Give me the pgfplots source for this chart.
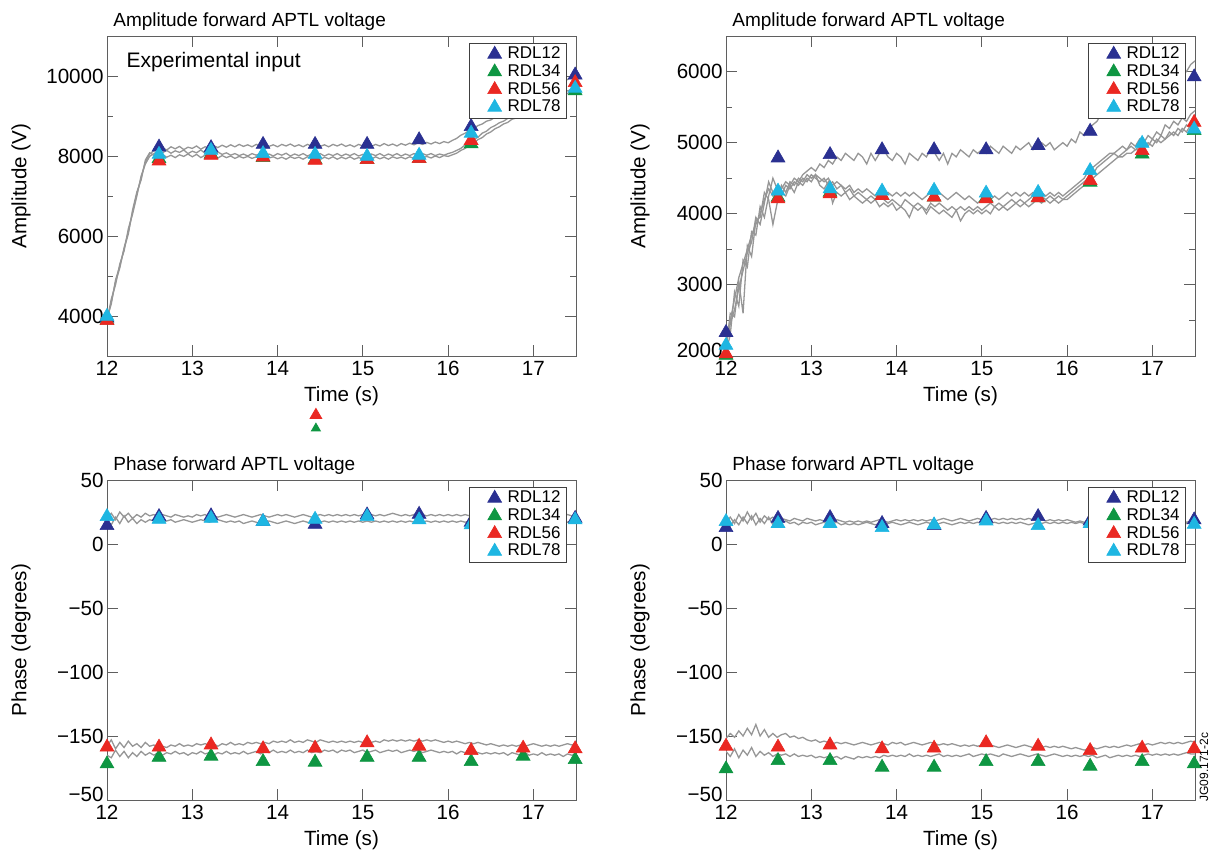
\documentclass[border=0pt]{standalone}
\usepackage{fontspec}
\setmainfont{Liberation Sans}
\usepackage{pgfplots}
\usepackage{pgfplotstable}
\pgfplotsset{compat=1.18}

\definecolor{rdlblue}{RGB}{42,48,145}
\definecolor{rdlgreen}{RGB}{14,150,66}
\definecolor{rdlred}{RGB}{234,40,34}
\definecolor{rdlcyan}{RGB}{30,182,226}
\definecolor{trace}{RGB}{150,150,150}
\definecolor{frame}{RGB}{95,95,95}

% amplitude traces, experimental input
\pgfplotstableread{
t s1 s2 s3
12.00 3900 3880 3950
12.05 4350 4420 4300
12.10 4850 4780 4900
12.15 5200 5300 5250
12.20 5700 5620 5680
12.25 6100 6180 6050
12.30 6600 6550 6650
12.35 7050 7000 7100
12.40 7450 7500 7400
12.45 7850 7800 7900
12.50 8050 7990 8080
12.55 8130 8060 8020
12.60 8170 8120 7990
12.65 8210 8080 8040
12.70 8150 8140 7970
12.75 8230 8070 8020
12.80 8180 8130 7960
12.85 8240 8090 8030
12.90 8160 8150 7990
12.95 8220 8060 8050
13.00 8190 8120 7980
13.05 8250 8080 8040
13.10 8170 8150 7960
13.15 8230 8070 8020
13.20 8200 8110 7990
13.25 8260 8060 8030
13.30 8210 8100 7950
13.35 8270 8040 8010
13.40 8220 8080 7960
13.45 8280 8020 8000
13.50 8230 8060 7940
13.55 8290 8010 7990
13.60 8240 8050 7950
13.65 8280 8000 7990
13.70 8230 8060 7940
13.75 8290 8020 7980
13.80 8250 8070 7930
13.85 8300 8010 7990
13.90 8240 8050 7950
13.95 8280 8000 7980
14.00 8230 8060 7930
14.05 8290 8020 7970
14.10 8250 8070 7920
14.15 8300 8000 7980
14.20 8240 8050 7940
14.25 8280 8010 7970
14.30 8230 8060 7920
14.35 8290 8000 7980
14.40 8250 8050 7940
14.45 8300 8010 7960
14.50 8240 8060 7910
14.55 8280 8000 7970
14.60 8230 8050 7930
14.65 8290 8010 7980
14.70 8250 8060 7920
14.75 8300 8000 7970
14.80 8240 8050 7930
14.85 8280 8010 7980
14.90 8230 8060 7920
14.95 8290 8000 7960
15.00 8250 8040 7930
15.05 8300 8000 7970
15.10 8240 8050 7920
15.15 8290 8010 7980
15.20 8250 8060 7930
15.25 8310 8000 7970
15.30 8260 8050 7920
15.35 8300 8010 7980
15.40 8250 8060 7940
15.45 8310 8000 7970
15.50 8270 8050 7930
15.55 8320 8010 7980
15.60 8280 8060 7940
15.65 8330 8010 7990
15.70 8290 8060 7950
15.75 8340 8020 7990
15.80 8300 8060 7950
15.85 8350 8010 8000
15.90 8310 8050 7960
15.95 8360 8020 8010
16.00 8330 8060 7990
16.05 8390 8090 8030
16.10 8440 8140 8070
16.15 8520 8190 8140
16.20 8570 8280 8190
16.25 8640 8320 8270
16.30 8690 8410 8320
16.35 8760 8470 8410
16.40 8800 8570 8460
16.45 8870 8620 8550
16.50 8900 8710 8600
16.55 8970 8760 8680
16.60 9010 8830 8730
16.65 9070 8870 8800
16.70 9110 8940 8840
16.75 9180 8980 8920
16.80 9220 9040 8950
16.85 9290 9070 9020
16.90 9330 9130 9050
16.95 9400 9160 9120
17.00 9440 9230 9150
17.05 9510 9260 9220
17.10 9550 9330 9250
17.15 9630 9360 9320
17.20 9670 9430 9350
17.25 9750 9460 9430
17.30 9790 9530 9460
17.35 9870 9560 9540
17.40 9910 9630 9560
17.45 9990 9660 9640
17.50 10030 9730 9670
}\ampexp

% amplitude traces, right panel
\pgfplotstableread{
t s1 s2 s3 s4
12.00 2250 2150 2050 2100
12.05 2500 2450 2300 2600
12.10 2800 2650 2900 2550
12.15 3100 2950 2700 3050
12.20 3300 3200 3350 2600
12.25 3500 3450 3250 3550
12.30 3700 3600 3750 3400
12.35 3850 3950 3700 3900
12.40 4000 3850 4100 3950
12.45 4200 4150 3950 4300
12.50 4350 4450 4250 4200
12.55 4250 4300 4500 3850
12.60 4400 4200 4350 4150
12.65 4350 4400 4250 4300
12.70 4450 4300 4400 4250
12.75 4400 4450 4350 4400
12.80 4500 4400 4450 4300
12.85 4450 4500 4400 4450
12.90 4550 4450 4500 4400
12.95 4600 4550 4450 4500
13.00 4650 4500 4550 4450
13.05 4600 4550 4500 4550
13.10 4700 4500 4450 4400
13.15 4650 4450 4500 4350
13.20 4750 4500 4400 4450
13.25 4700 4400 4450 4150
13.30 4800 4450 4350 4300
13.35 4750 4400 4400 4250
13.40 4850 4350 4300 4300
13.45 4800 4400 4350 4200
13.50 4750 4300 4250 4250
13.55 4850 4350 4300 4200
13.60 4800 4300 4250 4150
13.65 4700 4350 4200 4200
13.70 4850 4300 4250 4150
13.75 4750 4250 4200 4200
13.80 4850 4300 4250 4100
13.85 4900 4250 4200 4150
13.90 4800 4300 4150 4100
13.95 4750 4250 4200 4150
14.00 4850 4300 4150 4050
14.05 4800 4250 4100 4100
14.10 4700 4300 4200 4050
14.15 4850 4250 4150 3950
14.20 4800 4300 4100 4100
14.25 4750 4250 4150 4050
14.30 4850 4200 4100 4100
14.35 4800 4250 4050 4000
14.40 4900 4300 4150 4100
14.45 4850 4250 4100 4050
14.50 4750 4300 4150 4000
14.55 4850 4250 4100 4050
14.60 4700 4200 4050 4000
14.65 4850 4250 4100 3950
14.70 4800 4300 4050 4050
14.75 4900 4250 4100 3900
14.80 4850 4200 4050 4000
14.85 4800 4250 4100 4050
14.90 4900 4200 4050 4000
14.95 4850 4150 4100 4050
15.00 4900 4200 4050 4000
15.05 4850 4250 4100 4050
15.10 4950 4200 4150 4000
15.15 4900 4250 4100 4100
15.20 4850 4200 4150 4050
15.25 4950 4250 4100 4100
15.30 4900 4300 4150 4050
15.35 4850 4250 4200 4100
15.40 4950 4300 4150 4150
15.45 4900 4250 4200 4100
15.50 4950 4300 4150 4150
15.55 5000 4250 4200 4100
15.60 4900 4300 4250 4150
15.65 4950 4250 4200 4200
15.70 5000 4300 4250 4150
15.75 4950 4250 4200 4200
15.80 5000 4300 4250 4150
15.85 4900 4250 4200 4200
15.90 4950 4300 4250 4150
15.95 5000 4250 4200 4200
16.00 4950 4300 4250 4200
16.05 5050 4350 4300 4250
16.10 5000 4400 4350 4300
16.15 5150 4450 4400 4350
16.20 5100 4500 4450 4400
16.25 5200 4600 4500 4450
16.30 5250 4650 4550 4500
16.35 5300 4700 4650 4550
16.40 5400 4750 4700 4600
16.45 5350 4800 4750 4650
16.50 5450 4850 4800 4700
16.55 5500 4850 4850 4750
16.60 5450 4900 4800 4800
16.65 5550 4950 4850 4800
16.70 5600 4900 4900 4850
16.75 5550 5000 4950 4850
16.80 5650 4950 4900 4900
16.85 5700 5050 4950 4900
16.90 5650 5000 5000 4950
16.95 5750 5100 4950 5000
17.00 5800 5050 5050 4950
17.05 5750 5150 5000 5050
17.10 5850 5100 5100 5000
17.15 5900 5250 5050 5050
17.20 5850 5200 5150 5100
17.25 5950 5300 5100 5150
17.30 6000 5250 5200 5100
17.35 6050 5350 5150 5200
17.40 6000 5300 5250 5150
17.45 6100 5400 5200 5250
17.50 6150 5450 5300 5200
}\ampsim

% phase traces, left panel
\pgfplotstableread{
t s1 s2 s3 s4
12.00 20 18 -158 -165
12.05 24 15 -153 -167
12.10 19 21 -160 -161
12.15 25 16 -155 -166
12.20 21 22 -159 -162
12.25 24 17 -154 -167
12.30 20 20 -158 -163
12.35 23 16 -156 -166
12.40 21 19 -159 -162
12.45 24 17 -155 -165
12.50 22 19 -158 -163
12.55 23 18 -157 -165
12.60 21 19 -159 -163
12.65 23 17 -158 -165
12.70 22 18 -159 -163
12.75 21 19 -157 -164
12.80 23 17 -158 -162
12.85 22 18 -156 -164
12.90 21 19 -158 -163
12.95 22 18 -157 -165
13.00 21 17 -158 -163
13.05 23 18 -156 -164
13.10 22 19 -157 -162
13.15 23 18 -156 -164
13.20 21 17 -157 -163
13.25 22 18 -156 -165
13.30 21 19 -158 -163
13.35 22 18 -156 -164
13.40 23 17 -157 -162
13.45 22 18 -155 -164
13.50 21 17 -157 -163
13.55 22 18 -156 -164
13.60 23 16 -157 -162
13.65 22 17 -155 -164
13.70 21 18 -156 -163
13.75 22 17 -155 -162
13.80 23 16 -156 -164
13.85 22 17 -155 -162
13.90 21 18 -156 -163
13.95 22 17 -154 -161
14.00 23 16 -155 -163
14.05 22 17 -154 -162
14.10 23 18 -155 -163
14.15 22 17 -153 -161
14.20 21 16 -155 -163
14.25 22 17 -154 -162
14.30 23 18 -155 -163
14.35 22 17 -153 -161
14.40 21 16 -154 -163
14.45 22 18 -155 -162
14.50 23 17 -153 -163
14.55 22 18 -154 -161
14.60 23 17 -155 -162
14.65 22 18 -154 -161
14.70 23 17 -155 -163
14.75 22 18 -154 -161
14.80 23 17 -155 -162
14.85 22 18 -154 -161
14.90 23 17 -155 -163
14.95 22 18 -154 -162
15.00 23 17 -155 -161
15.05 24 18 -154 -163
15.10 23 17 -155 -162
15.15 22 18 -154 -161
15.20 23 17 -155 -163
15.25 22 18 -153 -162
15.30 23 17 -154 -161
15.35 24 18 -153 -162
15.40 23 17 -154 -161
15.45 22 18 -153 -163
15.50 23 17 -154 -162
15.55 22 18 -153 -161
15.60 23 17 -154 -162
15.65 24 18 -153 -161
15.70 23 17 -154 -163
15.75 22 18 -153 -162
15.80 23 17 -154 -161
15.85 22 18 -153 -162
15.90 23 17 -154 -163
15.95 22 18 -155 -162
16.00 23 17 -154 -163
16.05 22 18 -155 -162
16.10 23 17 -154 -164
16.15 22 18 -155 -162
16.20 23 17 -156 -163
16.25 22 18 -155 -164
16.30 23 17 -156 -162
16.35 22 18 -155 -163
16.40 23 17 -156 -164
16.45 22 18 -157 -163
16.50 23 17 -156 -164
16.55 22 18 -157 -163
16.60 23 17 -158 -164
16.65 22 18 -157 -163
16.70 23 17 -158 -165
16.75 22 18 -157 -163
16.80 23 17 -158 -164
16.85 22 18 -157 -165
16.90 23 17 -158 -163
16.95 22 18 -157 -165
17.00 23 17 -156 -164
17.05 22 18 -157 -165
17.10 23 17 -158 -163
17.15 22 18 -157 -165
17.20 23 17 -158 -164
17.25 22 18 -157 -165
17.30 23 17 -158 -164
17.35 22 18 -157 -166
17.40 23 17 -156 -164
17.45 22 18 -157 -165
17.50 23 17 -156 -164
}\phaexp

% phase traces, right panel
\pgfplotstableread{
t s1 s2 s3 s4
12.00 17 13 -152 -162
12.05 21 14 -148 -166
12.10 16 19 -151 -160
12.15 23 15 -146 -167
12.20 18 21 -150 -161
12.25 25 16 -144 -165
12.30 19 22 -149 -159
12.35 24 15 -141 -166
12.40 17 20 -150 -162
12.45 22 16 -145 -165
12.50 19 21 -151 -163
12.55 21 15 -148 -166
12.60 18 19 -151 -164
12.65 20 16 -149 -165
12.70 19 18 -148 -164
12.75 18 16 -151 -166
12.80 20 17 -150 -164
12.85 19 15 -152 -166
12.90 18 17 -151 -165
12.95 20 16 -153 -166
13.00 19 17 -154 -165
13.05 18 15 -153 -167
13.10 19 16 -155 -166
13.15 18 17 -154 -167
13.20 19 15 -155 -166
13.25 18 16 -156 -167
13.30 19 17 -155 -166
13.35 18 15 -156 -168
13.40 17 16 -155 -166
13.45 18 15 -156 -167
13.50 17 16 -157 -168
13.55 18 15 -156 -166
13.60 17 16 -155 -167
13.65 18 17 -156 -166
13.70 17 16 -157 -167
13.75 18 15 -156 -166
13.80 19 16 -155 -167
13.85 18 15 -156 -165
13.90 17 16 -157 -166
13.95 18 17 -155 -165
14.00 19 16 -156 -166
14.05 18 15 -155 -165
14.10 19 16 -157 -166
14.15 18 17 -156 -164
14.20 19 16 -155 -166
14.25 18 15 -156 -165
14.30 19 16 -157 -166
14.35 18 17 -156 -165
14.40 19 16 -155 -166
14.45 18 15 -156 -165
14.50 19 16 -157 -164
14.55 20 17 -156 -166
14.60 19 16 -157 -165
14.65 18 15 -156 -166
14.70 19 16 -157 -165
14.75 20 17 -158 -166
14.80 19 16 -157 -165
14.85 18 17 -158 -164
14.90 19 16 -157 -166
14.95 20 17 -158 -165
15.00 19 16 -157 -164
15.05 20 17 -158 -165
15.10 19 16 -157 -164
15.15 20 17 -158 -165
15.20 19 16 -159 -166
15.25 20 17 -158 -164
15.30 19 16 -157 -165
15.35 20 17 -158 -166
15.40 19 16 -159 -165
15.45 20 17 -158 -164
15.50 19 16 -157 -165
15.55 20 15 -158 -166
15.60 19 16 -159 -165
15.65 20 17 -158 -164
15.70 19 16 -159 -165
15.75 18 17 -158 -166
15.80 19 16 -159 -165
15.85 18 17 -158 -164
15.90 19 16 -159 -165
15.95 18 17 -158 -166
16.00 19 16 -159 -165
16.05 18 17 -160 -166
16.10 17 16 -159 -165
16.15 18 17 -160 -166
16.20 17 16 -161 -165
16.25 18 17 -160 -166
16.30 17 16 -159 -165
16.35 18 17 -160 -167
16.40 17 16 -159 -166
16.45 18 17 -158 -165
16.50 17 16 -159 -167
16.55 18 17 -158 -166
16.60 17 16 -159 -165
16.65 18 17 -158 -166
16.70 17 16 -157 -165
16.75 18 17 -158 -166
16.80 17 16 -157 -165
16.85 18 17 -156 -166
16.90 17 16 -157 -165
16.95 18 17 -156 -164
17.00 17 16 -157 -165
17.05 18 17 -156 -164
17.10 17 16 -155 -165
17.15 18 17 -156 -164
17.20 17 16 -155 -165
17.25 18 17 -156 -164
17.30 17 16 -155 -165
17.35 18 17 -156 -164
17.40 17 16 -155 -163
17.45 18 17 -154 -164
17.50 17 16 -155 -164
}\phasim

\pgfplotsset{
  aptl/.style={
    scale only axis, width=234.5pt, height=160pt,
    xmin=12, xmax=17.5, xtick={12,13,14,15,16,17},
    scaled y ticks=false,
    axis line style={draw=frame, line width=0.5pt},
    every tick/.style={frame, line width=0.5pt},
    major tick length=5.5pt, minor tick length=3pt,
    /pgf/number format/assume math mode=true,
    /pgf/number format/1000 sep={},
    ticklabel style={font=\fontsize{10.3}{12}\selectfont},
    xticklabel style={inner ysep=2.5pt},
    yticklabel style={inner xsep=1.5pt},
    every axis x label/.style={at={([yshift=-20pt]axis description cs:0.5,0)}, anchor=center, font=\fontsize{10.3}{12}\selectfont},
    every axis y label/.style={at={([xshift=-43pt]axis description cs:0,0.5)}, rotate=90, anchor=center, font=\fontsize{10.3}{12}\selectfont},
    every axis title/.style={at={(0,1)}, anchor=base west, inner sep=0pt, xshift=3pt, yshift=4.6pt, font=\fontsize{9.5}{11}\selectfont},
    xlabel={Time (s)},
    legend style={at={(1,1)}, anchor=north east, xshift=-4.5pt, yshift=-3.5pt,
      draw=black!75, line width=0.4pt, fill=white,
      font=\fontsize{8.5}{9}\selectfont, inner xsep=1.5pt, inner ysep=1pt, row sep=0pt,
      nodes={inner ysep=0.7pt, inner xsep=1.5pt}},
    legend cell align=left,
    legend image code/.code={\path[draw=none, fill=none] (0pt,-2pt) rectangle (16pt,2pt); \draw[##1] plot coordinates {(11pt,0pt)};},
  },
  rdl/.style={only marks, mark=triangle*, mark size=4pt, color=#1, mark options={fill=#1, draw=#1, line width=0.3pt}},
  grey trace/.style={draw=trace, line width=0.65pt, no marks, forget plot},
}

\begin{document}
\begin{tikzpicture}
\useasboundingbox (0,0) rectangle (606.5pt,426pt);

% top left: amplitude, experimental input
\begin{axis}[aptl, at={(53.5pt,248pt)}, anchor=south west,
  ymin=3000, ymax=11000, ytick={4000,6000,8000,10000}, minor ytick={3000,5000,7000,9000,11000},
  ylabel={Amplitude (V)}, ylabel style={at={([xshift=-43pt,yshift=5pt]axis description cs:0,0.5)}},
  title={Amplitude forward APTL voltage}]
\addplot[grey trace] table[x=t, y=s1] {\ampexp};
\addplot[grey trace] table[x=t, y=s2] {\ampexp};
\addplot[grey trace] table[x=t, y=s3] {\ampexp};
\addplot[rdl=rdlblue] coordinates {(12.0,3950) (12.61,8223) (13.22,8207) (13.83,8289) (14.44,8289) (15.05,8289) (15.66,8405) (16.27,8736) (16.88,9300) (17.49,10025)};
\addlegendentry{RDL12}
\addplot[rdl=rdlgreen] coordinates {(12.0,3900) (12.61,7934) (13.22,8041) (13.83,7959) (14.44,7909) (15.05,7909) (15.66,7934) (16.27,8306) (16.88,9050) (17.49,9628)};
\addlegendentry{RDL34}
\addplot[rdl=rdlred] coordinates {(12.0,3884) (12.61,7876) (13.22,8017) (13.83,7975) (14.44,7893) (15.05,7909) (15.66,7934) (16.27,8388) (16.88,9100) (17.49,9835)};
\addlegendentry{RDL56}
\addplot[rdl=rdlcyan] coordinates {(12.0,3992) (12.61,8041) (13.22,8140) (13.83,8058) (14.44,8041) (15.05,7992) (15.66,8017) (16.27,8570) (16.88,9200) (17.49,9694)};
\addlegendentry{RDL78}
\node[anchor=west, font=\fontsize{10.5}{12}\selectfont] at (rel axis cs:0.027,0.919) {Experimental input};
\end{axis}

% stray markers below the first time label
\begin{axis}[at={(53.5pt,248pt)}, anchor=south west, scale only axis, width=234.5pt, height=160pt,
  xmin=12, xmax=17.5, ymin=3000, ymax=11000, hide axis, clip=false]
\addplot[only marks, mark=triangle*, mark size=3.4pt, color=rdlred] coordinates {(14.45,1520)};
\addplot[only marks, mark=triangle*, mark size=2.6pt, color=rdlgreen] coordinates {(14.45,1190)};
\end{axis}

% top right: amplitude
\begin{axis}[aptl, at={(363pt,248pt)}, anchor=south west,
  ymin=2000, ymax=6500, ytick={3000,4000,5000,6000}, minor ytick={2500,3500,4500,5500,6500},
  extra y ticks={2000}, extra y tick style={yticklabel style={yshift=3pt}},
  ylabel={Amplitude (V)}, ylabel style={at={([xshift=-43pt,yshift=5pt]axis description cs:0,0.5)}},
  title={Amplitude forward APTL voltage}]
\addplot[grey trace] table[x=t, y=s1] {\ampsim};
\addplot[grey trace] table[x=t, y=s2] {\ampsim};
\addplot[grey trace] table[x=t, y=s3] {\ampsim};
\addplot[grey trace] table[x=t, y=s4] {\ampsim};
\addplot[rdl=rdlblue] coordinates {(12.0,2330) (12.61,4785) (13.22,4832) (13.83,4900) (14.44,4900) (15.05,4900) (15.66,4960) (16.27,5160) (16.88,5500) (17.49,5925)};
\addlegendentry{RDL12}
\addplot[rdl=rdlgreen] coordinates {(12.0,2010) (12.61,4230) (13.22,4300) (13.83,4257) (14.44,4234) (15.05,4225) (15.66,4225) (16.27,4444) (16.88,4840) (17.49,5170)};
\addlegendentry{RDL34}
\addplot[rdl=rdlred] coordinates {(12.0,2030) (12.61,4210) (13.22,4280) (13.83,4257) (14.44,4234) (15.05,4210) (15.66,4225) (16.27,4467) (16.88,4888) (17.49,5285)};
\addlegendentry{RDL56}
\addplot[rdl=rdlcyan] coordinates {(12.0,2150) (12.61,4318) (13.22,4350) (13.83,4318) (14.44,4330) (15.05,4290) (15.66,4300) (16.27,4607) (16.88,4990) (17.49,5190)};
\addlegendentry{RDL78}
\end{axis}

% bottom left: phase, experimental input
\begin{axis}[aptl, at={(53.5pt,26pt)}, anchor=south west,
  ymin=-200, ymax=50, ytick={-150,-100,-50,0,50},
  yticklabels={−150,−100,−50,0,50},
  extra y ticks={-200}, extra y tick labels={−50}, extra y tick style={yticklabel style={yshift=3pt}},
  ylabel={Phase (degrees)}, title={Phase forward APTL voltage}]
\addplot[grey trace] table[x=t, y=s1] {\phaexp};
\addplot[grey trace] table[x=t, y=s2] {\phaexp};
\addplot[grey trace] table[x=t, y=s3] {\phaexp};
\addplot[grey trace] table[x=t, y=s4] {\phaexp};
\addplot[rdl=rdlblue] coordinates {(12.0,14.4) (12.61,21.4) (13.22,22) (13.83,17.5) (14.44,15.4) (15.05,22.7) (15.66,23.2) (16.27,17) (16.88,20) (17.49,20)};
\addlegendentry{RDL12}
\addplot[rdl=rdlgreen] coordinates {(12.0,-171.8) (12.61,-166.6) (13.22,-165.8) (13.83,-170) (14.44,-170.5) (15.05,-166.6) (15.66,-166.6) (16.27,-170) (16.88,-165.8) (17.49,-168.4)};
\addlegendentry{RDL34}
\addplot[rdl=rdlred] coordinates {(12.0,-158.7) (12.61,-158.7) (13.22,-157) (13.83,-160) (14.44,-159.5) (15.05,-155.3) (15.66,-158) (16.27,-161.4) (16.88,-159.5) (17.49,-160)};
\addlegendentry{RDL56}
\addplot[rdl=rdlcyan] coordinates {(12.0,21.4) (12.61,19.3) (13.22,20) (13.83,17.5) (14.44,19.3) (15.05,21.4) (15.66,18.8) (16.27,15) (16.88,18) (17.49,18.8)};
\addlegendentry{RDL78}
\end{axis}

% bottom right: phase
\begin{axis}[aptl, at={(363pt,26pt)}, anchor=south west,
  ymin=-200, ymax=50, ytick={-150,-100,-50,0,50},
  yticklabels={−150,−100,−50,0,50},
  extra y ticks={-200}, extra y tick labels={−50}, extra y tick style={yticklabel style={yshift=3pt}},
  ylabel={Phase (degrees)}, title={Phase forward APTL voltage}]
\addplot[grey trace] table[x=t, y=s1] {\phasim};
\addplot[grey trace] table[x=t, y=s2] {\phasim};
\addplot[grey trace] table[x=t, y=s3] {\phasim};
\addplot[grey trace] table[x=t, y=s4] {\phasim};
\addplot[rdl=rdlblue] coordinates {(12.0,12.8) (12.61,20) (13.22,20.6) (13.83,16) (14.44,14.4) (15.05,20) (15.66,21.4) (16.27,18) (16.88,18) (17.49,18.8)};
\addlegendentry{RDL12}
\addplot[rdl=rdlgreen] coordinates {(12.0,-175.7) (12.61,-169.2) (13.22,-169.2) (13.83,-174.4) (14.44,-174.4) (15.05,-170) (15.66,-170) (16.27,-173.6) (16.88,-170) (17.49,-171.8)};
\addlegendentry{RDL34}
\addplot[rdl=rdlred] coordinates {(12.0,-158) (12.61,-158.7) (13.22,-157) (13.83,-160) (14.44,-159.5) (15.05,-155.3) (15.66,-158) (16.27,-161.4) (16.88,-159.5) (17.49,-160)};
\addlegendentry{RDL56}
\addplot[rdl=rdlcyan] coordinates {(12.0,17.5) (12.61,16) (13.22,16) (13.83,12.8) (14.44,14.9) (15.05,18) (15.66,14.4) (16.27,16) (16.88,16) (17.49,15.4)};
\addlegendentry{RDL78}
\end{axis}

\node[rotate=90, font=\fontsize{6}{7}\selectfont, anchor=center] at (602pt,42.5pt) {JG09.171-2c};
\end{tikzpicture}
\end{document}
